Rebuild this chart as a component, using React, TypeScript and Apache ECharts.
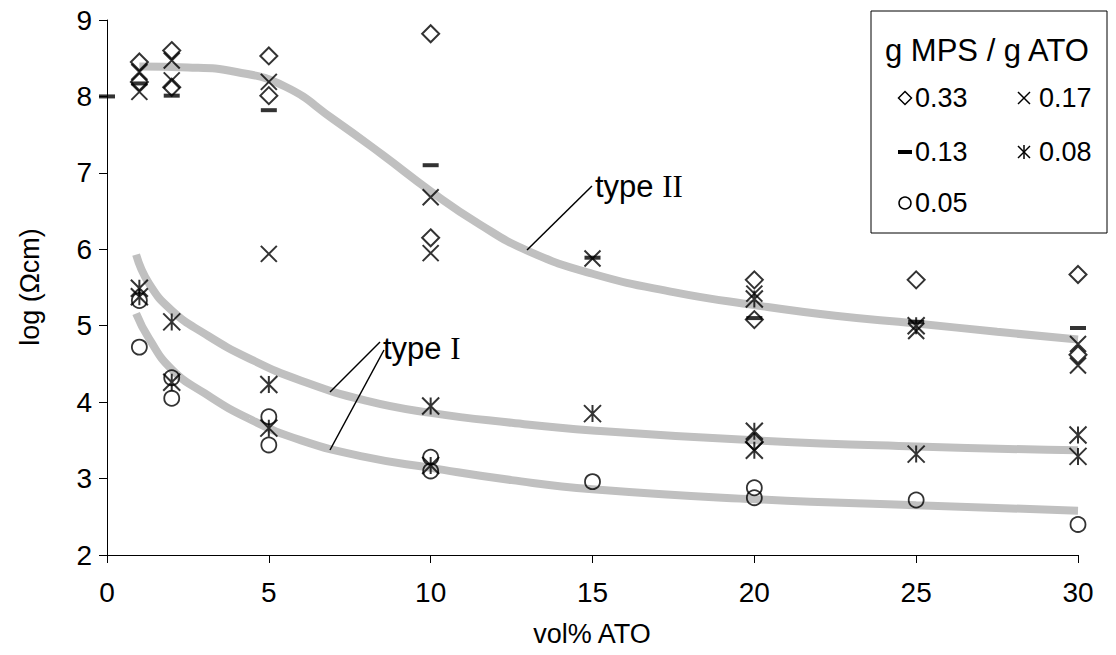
import React, { useEffect, useRef } from "react";
import * as echarts from "echarts";

// ---- data (x = vol% ATO, y = log(Ωcm)) ----
const mps033: [number, number][] = [
  [1, 8.45], [1, 8.19], [2, 8.6], [2, 8.12], [5, 8.53], [5, 8.01],
  [10, 8.82], [10, 6.15], [20, 5.6], [20, 5.08], [20, 3.48], [25, 5.6],
  [30, 5.67], [30, 4.62],
];
const mps017: [number, number][] = [
  [1, 8.32], [1, 8.06], [2, 8.47], [2, 8.21], [5, 8.19], [5, 5.94],
  [10, 6.68], [10, 5.95], [15, 5.88], [20, 5.42], [25, 4.93], [30, 4.76], [30, 4.48],
];
const mps013: [number, number][] = [
  [0, 8.0], [1, 8.17], [2, 8.01], [5, 7.82], [10, 7.1], [15, 5.89],
  [20, 5.1], [25, 5.05], [30, 4.97],
];
const mps008: [number, number][] = [
  [1, 5.49], [1, 5.38], [2, 5.05], [2, 4.26], [5, 4.23], [5, 3.66],
  [10, 3.95], [10, 3.17], [15, 3.85], [20, 5.35], [20, 3.62], [20, 3.37],
  [25, 5.0], [25, 3.32], [30, 3.57], [30, 3.29],
];
const mps005: [number, number][] = [
  [1, 5.33], [1, 4.72], [2, 4.32], [2, 4.05], [5, 3.81], [5, 3.44],
  [10, 3.28], [10, 3.1], [15, 2.96], [20, 2.88], [20, 2.75], [25, 2.72], [30, 2.4],
];
// fitted trend curves
const curveTypeII: [number, number][] = [
  [1, 8.39], [2.5, 8.38], [4, 8.32], [5.5, 8.13], [7, 7.7], [8.5, 7.24],
  [10, 6.76], [11.5, 6.33], [13, 5.98], [15, 5.68], [17.5, 5.44], [20, 5.27],
  [22.5, 5.13], [25, 5.03], [27.5, 4.92], [30, 4.82],
];
const curveTypeIa: [number, number][] = [
  [0.9, 5.93], [1.3, 5.55], [2, 5.2], [3, 4.9], [4.4, 4.57], [6, 4.28],
  [8, 4.02], [10, 3.86], [12.5, 3.73], [15, 3.63], [20, 3.5], [25, 3.42], [30, 3.37],
];
const curveTypeIb: [number, number][] = [
  [0.9, 5.16], [1.3, 4.83], [2, 4.43], [3, 4.12], [4.4, 3.78], [6, 3.5],
  [8, 3.28], [10, 3.14], [12.5, 2.98], [15, 2.86], [20, 2.73], [25, 2.65], [30, 2.58],
];
const legendTitle = "g MPS / g ATO";
const legendLabels = ["0.33", "0.17", "0.13", "0.08", "0.05"];
const xName = "vol% ATO";
const yName = "log (Ωcm)";

const FONT = "Liberation Sans";
const X_PATH = "path://M0,0L10,10M10,0L0,10";
const AST_PATH = "path://M0,0L10,10M10,0L0,10M5,0L5,10";
const DASH_PATH = "path://M0,0H10V3H0Z";

export default function App() {
  const ref = useRef<HTMLDivElement>(null);
  useEffect(() => {
    if (!ref.current) return;
    const chart = echarts.init(ref.current, undefined, { renderer: "svg" });
    const hollow = { color: "transparent", borderColor: "#000", borderWidth: 2 };
    const curve = (data: [number, number][]) => ({
      type: "line",
      data,
      smooth: 0.5,
      showSymbol: false,
      silent: true,
      z: 1,
      lineStyle: { color: "#c0c0c0", width: 8 },
    });
    const lineEl = (x1: number, y1: number, x2: number, y2: number) => ({
      type: "line",
      shape: { x1, y1, x2, y2 },
      style: { stroke: "#000", lineWidth: 1.5 },
      z: 50,
    });
    const txt = (text: string, x: number, y: number, extra: any = {}) => ({
      type: "text",
      x,
      y,
      z: 60,
      style: { text, fontFamily: FONT, fontSize: 26, fill: "#000", verticalAlign: "middle", ...extra },
    });
    const typeLabel = (roman: string, x: number, y: number) => ({
      type: "text",
      x,
      y,
      z: 60,
      style: {
        text: `{a|type }{b|${roman}}`,
        verticalAlign: "middle",
        rich: {
          a: { fontFamily: FONT, fontSize: 31, fill: "#000" },
          b: { fontFamily: "Liberation Serif", fontSize: 31, fill: "#000" },
        },
      },
    });
    const lx = 905, rx = 1024;
    const r1 = 98, r2 = 152, r3 = 203;
    chart.setOption({
      animation: false,
      grid: { left: 107, right: 38, top: 20, bottom: 100, containLabel: false },
      xAxis: {
        type: "value",
        min: 0,
        max: 30,
        interval: 5,
        splitLine: { show: false },
        axisLine: { onZero: false, lineStyle: { color: "#000", width: 1 } },
        axisTick: { length: 8, lineStyle: { color: "#000" } },
        axisLabel: { color: "#000", fontFamily: FONT, fontSize: 28, margin: 23 },
      },
      yAxis: {
        type: "value",
        min: 2,
        max: 9,
        interval: 1,
        splitLine: { show: false },
        axisLine: { show: true, onZero: false, lineStyle: { color: "#000", width: 1 } },
        axisTick: { show: true, length: 8, lineStyle: { color: "#000" } },
        axisLabel: { color: "#000", fontFamily: FONT, fontSize: 28, margin: 15 },
      },
      series: [
        curve(curveTypeII),
        curve(curveTypeIa),
        curve(curveTypeIb),
        { type: "scatter", name: "0.33", data: mps033, symbol: "diamond", symbolSize: 17, itemStyle: hollow, z: 5 },
        { type: "scatter", name: "0.17", data: mps017, symbol: X_PATH, symbolSize: 16, itemStyle: hollow, z: 5 },
        { type: "scatter", name: "0.13", data: mps013, symbol: DASH_PATH, symbolSize: [16, 4], itemStyle: { color: "#000" }, z: 5 },
        { type: "scatter", name: "0.08", data: mps008, symbol: AST_PATH, symbolSize: 17, itemStyle: hollow, z: 5 },
        { type: "scatter", name: "0.05", data: mps005, symbol: "circle", symbolSize: 15, itemStyle: { ...hollow, borderWidth: 1.8 }, z: 5 },
      ],
      graphic: [
        // axis names
        txt(xName, 592, 634, { align: "center", fontSize: 27 }),
        { ...txt(yName, 30, 287, { align: "center", fontSize: 27 }), rotation: Math.PI / 2 },
        // annotations
        lineEl(592, 186, 527, 250),
        lineEl(380, 342, 330, 392),
        lineEl(384, 350, 330, 450),
        typeLabel("II", 595, 186),
        typeLabel("I", 383, 348),
        // legend box
        {
          type: "rect",
          shape: { x: 871, y: 11, width: 236, height: 222 },
          style: { fill: "#fff", stroke: "#000", lineWidth: 1 },
          z: 40,
        },
        txt(legendTitle, 885, 50, { fontSize: 31 }),
        {
          type: "polygon",
          shape: { points: [[lx, r1 - 6.5], [lx + 6.5, r1], [lx, r1 + 6.5], [lx - 6.5, r1]] },
          style: { fill: "none", stroke: "#000", lineWidth: 1.5 },
          z: 60,
        },
        txt(legendLabels[0], 915, r1, { fontSize: 27 }),
        lineEl(rx - 6, r1 - 6, rx + 6, r1 + 6),
        lineEl(rx + 6, r1 - 6, rx - 6, r1 + 6),
        txt(legendLabels[1], 1039, r1, { fontSize: 27 }),
        { type: "rect", shape: { x: lx - 7, y: r2 - 2, width: 14, height: 4 }, style: { fill: "#000" }, z: 60 },
        txt(legendLabels[2], 915, r2, { fontSize: 27 }),
        lineEl(rx - 6, r2 - 6, rx + 6, r2 + 6),
        lineEl(rx + 6, r2 - 6, rx - 6, r2 + 6),
        lineEl(rx, r2 - 7, rx, r2 + 7),
        txt(legendLabels[3], 1039, r2, { fontSize: 27 }),
        { type: "circle", shape: { cx: lx, cy: r3, r: 6 }, style: { fill: "none", stroke: "#000", lineWidth: 1.5 }, z: 60 },
        txt(legendLabels[4], 915, r3, { fontSize: 27 }),
      ],
    });
    return () => chart.dispose();
  }, []);
  return (
    <div
      ref={ref}
      style={{ position: "absolute", left: 0, top: 0, width: 1116, height: 655, background: "#fff" }}
    />
  );
}
